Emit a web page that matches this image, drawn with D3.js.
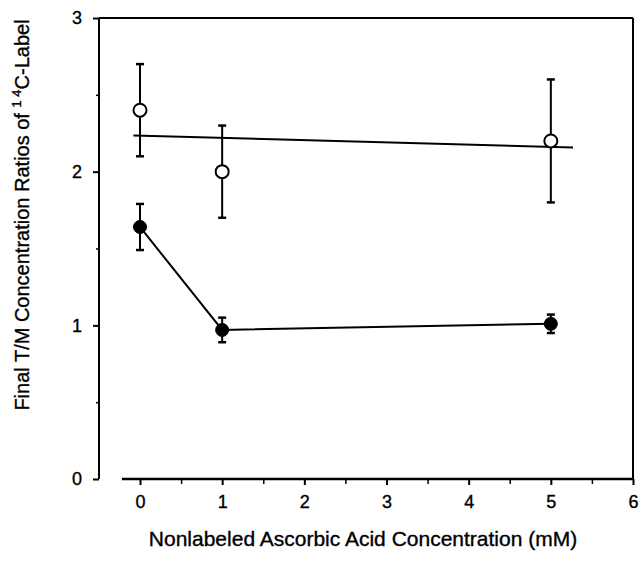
<!DOCTYPE html>
<html>
<head>
<meta charset="utf-8">
<script src="https://cdn.jsdelivr.net/npm/d3@7"></script>
<style>
  html, body { margin: 0; padding: 0; background: #fff; }
  svg { display: block; }
  text { font-family: "Liberation Sans", Arial, Helvetica, sans-serif; fill: #000; stroke: #000; stroke-width: 0.35px; }
</style>
</head>
<body>
<script>
// ---- data ----
const concentrations = [0, 1, 5];
const openMeans = [2.4, 2.0, 2.2];
const openErrors = [0.3, 0.3, 0.4];
const filledMeans = [1.64, 0.97, 1.01];
const filledErrors = [0.15, 0.08, 0.06];
const fitLineX = [-0.08, 5.27];
const fitLineY = [2.235, 2.158];
const xTickValues = [0, 1, 2, 3, 4, 5, 6];
const xMinorTicks = [0.5, 1.5, 2.5, 3.5, 4.5, 5.5];
const yTickValues = [0, 1, 2, 3];
const yMinorTicks = [0.5, 1.5, 2.5];
const xTitle = "Nonlabeled Ascorbic Acid Concentration (mM)";
const yTitlePre = "Final T/M Concentration Ratios of ";
const yTitleSup = "1 4";
const yTitlePost = "C-Label";

const W = 639, H = 563;
const svg = d3.select("body").append("svg").attr("width", W).attr("height", H);

const x = d3.scaleLinear().domain([0, 6]).range([140, 633]);
const y = d3.scaleLinear().domain([0, 3]).range([479, 18]);
const yAxisX = 99;
const xStart = -0.22;

// frame lines
const frame = svg.append("g").attr("stroke", "#000").attr("stroke-width", 2).attr("fill", "none");
frame.append("line").attr("x1", yAxisX).attr("x2", yAxisX).attr("y1", y(0)).attr("y2", y(3));
frame.append("line").attr("x1", yAxisX).attr("x2", x(6)).attr("y1", y(3)).attr("y2", y(3));
frame.append("line").attr("x1", x(6)).attr("x2", x(6)).attr("y1", y(3)).attr("y2", y(0));
frame.append("line").attr("x1", x(xStart)).attr("x2", x(6)).attr("y1", y(0)).attr("y2", y(0)).attr("stroke-width", 2.5);

// y axis
const yAxis = d3.axisLeft(y).tickValues(yTickValues).tickSize(6).tickPadding(11).tickFormat(d3.format("d"));
const gy = svg.append("g").attr("transform", `translate(${yAxisX},0)`).call(yAxis);
gy.select(".domain").remove();
gy.selectAll(".tick line").attr("stroke-width", 2);
gy.selectAll(".tick text").attr("font-size", 18).style("font-family", "Liberation Sans, Arial, sans-serif");
const yMinor = d3.axisLeft(y).tickValues(yMinorTicks).tickSize(3).tickFormat("");
const gym = svg.append("g").attr("transform", `translate(${yAxisX},0)`).call(yMinor);
gym.select(".domain").remove();
gym.selectAll(".tick line").attr("stroke-width", 1.5);

// x axis
const xAxis = d3.axisBottom(x).tickValues(xTickValues).tickSize(6).tickPadding(10).tickFormat(d3.format("d"));
const gx = svg.append("g").attr("transform", `translate(0,${y(0)})`).call(xAxis);
gx.select(".domain").remove();
gx.selectAll(".tick line").attr("stroke-width", 2);
gx.selectAll(".tick text").attr("font-size", 18).style("font-family", "Liberation Sans, Arial, sans-serif");
const xMinor = d3.axisBottom(x).tickValues(xMinorTicks).tickSize(5).tickFormat("");
const gxm = svg.append("g").attr("transform", `translate(0,${y(0)})`).call(xMinor);
gxm.select(".domain").remove();
gxm.selectAll(".tick line").attr("stroke-width", 1.5);

// fit line for open series
svg.append("line")
  .attr("x1", x(fitLineX[0])).attr("y1", y(fitLineY[0]))
  .attr("x2", x(fitLineX[1])).attr("y2", y(fitLineY[1]))
  .attr("stroke", "#000").attr("stroke-width", 2);

// filled series connecting line
const filledData = concentrations.map((c, i) => ({ c, m: filledMeans[i], e: filledErrors[i] }));
const openData = concentrations.map((c, i) => ({ c, m: openMeans[i], e: openErrors[i] }));
svg.append("path")
  .datum(filledData)
  .attr("d", d3.line().x(d => x(d.c)).y(d => y(d.m)))
  .attr("fill", "none").attr("stroke", "#000").attr("stroke-width", 2);

function errorBars(data) {
  const g = svg.append("g").attr("stroke", "#000").attr("stroke-width", 2);
  data.forEach(d => {
    g.append("line").attr("x1", x(d.c)).attr("x2", x(d.c)).attr("y1", y(d.m - d.e)).attr("y2", y(d.m + d.e));
    g.append("line").attr("x1", x(d.c) - 4).attr("x2", x(d.c) + 4).attr("y1", y(d.m + d.e)).attr("y2", y(d.m + d.e)).attr("stroke-width", 2.5);
    g.append("line").attr("x1", x(d.c) - 4).attr("x2", x(d.c) + 4).attr("y1", y(d.m - d.e)).attr("y2", y(d.m - d.e)).attr("stroke-width", 2.5);
  });
}
errorBars(openData);
errorBars(filledData);

svg.append("g").selectAll("circle").data(openData).join("circle")
  .attr("cx", d => x(d.c)).attr("cy", d => y(d.m)).attr("r", 6.5)
  .attr("fill", "#fff").attr("stroke", "#000").attr("stroke-width", 2);
svg.append("g").selectAll("circle").data(filledData).join("circle")
  .attr("cx", d => x(d.c)).attr("cy", d => y(d.m)).attr("r", 6.5)
  .attr("fill", "#000").attr("stroke", "#000").attr("stroke-width", 1);

// titles
svg.append("text")
  .attr("x", 363).attr("y", 546)
  .attr("text-anchor", "middle").attr("font-size", 21)
  .text(xTitle);

const yt = svg.append("text")
  .attr("transform", `translate(29,215) rotate(-90)`)
  .attr("text-anchor", "middle").attr("font-size", 20);
yt.append("tspan").text(yTitlePre);
yt.append("tspan").attr("font-size", 13).attr("dy", -8).text(yTitleSup);
yt.append("tspan").attr("dy", 8).text(yTitlePost);
</script>
</body>
</html>
